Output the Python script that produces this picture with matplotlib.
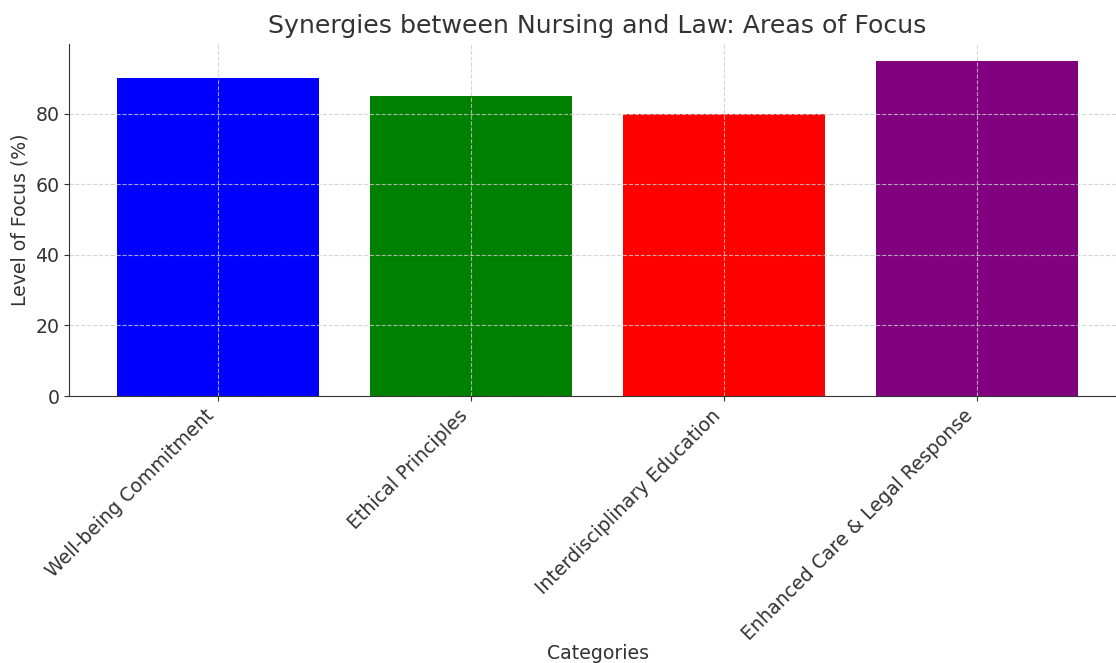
import matplotlib
matplotlib.use("Agg")
import matplotlib.pyplot as plt

categories = ["Well-being Commitment", "Ethical Principles",
              "Interdisciplinary Education", "Enhanced Care & Legal Response"]
values = [90, 85, 80, 95]
colors = ["blue", "green", "red", "purple"]

W, H = 1116, 663
fig = plt.figure(figsize=(W / 100, H / 100), dpi=100)
ax = fig.add_axes([69 / W, (H - 396) / H, 1057 / W, 352 / H])

txt = "#333333"
ax.bar(categories, values, color=colors)
ax.set_title("Synergies between Nursing and Law: Areas of Focus",
             fontsize=18.2, color=txt, pad=8)
ax.set_xlabel("Categories", fontsize=13.6, color=txt, labelpad=0)
ax.set_ylabel("Level of Focus (%)", fontsize=13.6, color=txt)
ax.tick_params(axis="both", labelsize=13.6, labelcolor=txt, color="#333333")
plt.setp(ax.get_xticklabels(), rotation=45, ha="right")
ax.grid(True, linestyle="--", color="#cccccc", alpha=0.8, linewidth=0.8)
ax.spines["top"].set_visible(False)
ax.spines["right"].set_visible(False)
for s in ("left", "bottom"):
    ax.spines[s].set_color("#333333")

fig.savefig("out.png", dpi=100)
